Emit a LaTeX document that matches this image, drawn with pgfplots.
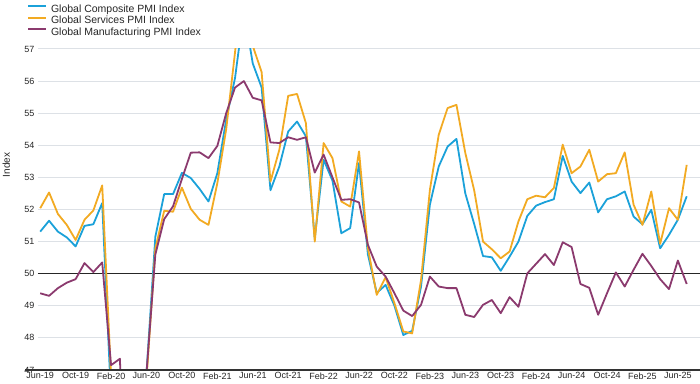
\documentclass[border=0pt]{standalone}
\usepackage{fontspec}
\setmainfont{Liberation Sans}
\usepackage{pgfplots}
\usepackage{pgfplotstable}
\pgfplotsset{compat=1.18}
\definecolor{comp}{HTML}{1BA1D9}
\definecolor{serv}{HTML}{F2AA22}
\definecolor{manu}{HTML}{8B3A6E}
\definecolor{gridc}{HTML}{DDE1E6}
\pgfplotstableread{
m comp serv manu
0 51.31 52.04 49.39
1 51.65 52.53 49.31
2 51.31 51.86 49.55
3 51.13 51.52 49.72
4 50.85 51.05 49.83
5 51.49 51.68 50.33
6 51.54 51.97 50.05
7 52.20 52.75 50.35
8 46.10 46.80 47.15
9 39.40 37.00 47.35
10 26.20 23.70 39.60
11 36.30 35.10 42.40
12 46.90 46.70 46.90
13 51.15 50.78 50.60
14 52.48 51.96 51.70
15 52.48 51.93 52.10
16 53.14 52.68 52.95
17 52.98 52.02 53.77
18 52.64 51.68 53.78
19 52.25 51.52 53.60
20 53.13 52.82 53.98
21 54.80 54.50 55.00
22 56.10 56.90 55.80
23 58.20 59.50 56.00
24 56.55 57.10 55.48
25 55.80 56.28 55.40
26 52.60 52.87 54.09
27 53.34 53.86 54.07
28 54.43 55.54 54.25
29 54.74 55.60 54.17
30 54.28 54.69 54.25
31 51.10 51.00 53.15
32 53.55 54.07 53.71
33 52.90 53.60 53.00
34 51.26 52.25 52.30
35 51.42 52.09 52.32
36 53.45 53.81 52.22
37 50.60 50.80 50.90
38 49.40 49.34 50.22
39 49.65 49.89 49.91
40 49.00 49.08 49.39
41 48.09 48.20 48.85
42 48.22 48.14 48.68
43 49.60 49.80 49.03
44 52.15 52.61 49.91
45 53.34 54.33 49.60
46 53.96 55.16 49.55
47 54.20 55.26 49.55
48 52.50 53.76 48.72
49 51.55 52.60 48.65
50 50.55 51.00 49.03
51 50.51 50.76 49.18
52 50.09 50.48 48.77
53 50.53 50.69 49.27
54 51.00 51.63 48.97
55 51.80 52.32 50.01
56 52.12 52.43 50.31
57 52.23 52.38 50.61
58 52.32 52.67 50.27
59 53.67 54.02 50.98
60 52.87 53.13 50.83
61 52.51 53.34 49.68
62 52.84 53.86 49.56
63 51.91 52.87 48.72
64 52.32 53.10 49.39
65 52.41 53.13 50.04
66 52.56 53.78 49.60
67 51.78 52.15 50.12
68 51.54 51.52 50.62
69 51.99 52.56 50.24
70 50.79 50.93 49.83
71 51.21 52.04 49.52
72 51.68 51.68 50.41
73 52.41 53.39 49.68
}\pmidata
\begin{document}
\begin{tikzpicture}
\useasboundingbox (0,0) rectangle (700bp,384bp);
\begin{axis}[
  at={(38bp,14bp)}, anchor=south west,
  scale only axis, width=662bp, height=321bp,
  xmin=-0.25, xmax=74.5, ymin=47, ymax=57,
  axis line style={draw=none},
  tick style={draw=none},
  ytick={47,48,...,57},
  ymajorgrids,
  grid style={gridc, line width=1bp},
  xtick={0,4,...,72},
  xticklabels={Jun-19,Oct-19,Feb-20,Jun-20,Oct-20,Feb-21,Jun-21,Oct-21,Feb-22,Jun-22,Oct-22,Feb-23,Jun-23,Oct-23,Feb-24,Jun-24,Oct-24,Feb-25,Jun-25},
  ticklabel style={font=\fontsize{9bp}{10bp}\selectfont, text=black!85},
  xticklabel style={yshift=1bp},
  /pgf/number format/assume math mode=true,
  ylabel={Index},
  every axis y label/.style={at={(axis description cs:-0.048,0.639)}, rotate=90, anchor=center, font=\fontsize{10bp}{12bp}\selectfont, text=black!85},
  legend style={at={(axis description cs:-0.0166,1.1402)}, anchor=north west, draw=none, fill=none, inner sep=0pt,
    font=\fontsize{10.5bp}{12bp}\selectfont, text=black!85, row sep=1.5bp, column sep=4bp,
    nodes={inner sep=0pt, text height=8bp, text depth=2bp}},
  legend image code/.code={\draw[#1] (0bp,3bp) -- (18bp,3bp);},
  legend cell align=left,
  line join=round,
]
\draw[black!85, line width=1.3bp] (axis cs:-0.25,50) -- (axis cs:74.5,50);
\addplot[comp, line width=1.8bp] table[x=m, y=comp]{\pmidata};
\addlegendentry{Global Composite PMI Index}
\addplot[serv, line width=1.8bp] table[x=m, y=serv]{\pmidata};
\addlegendentry{Global Services PMI Index}
\addplot[manu, line width=1.8bp] table[x=m, y=manu]{\pmidata};
\addlegendentry{Global Manufacturing PMI Index}
\end{axis}
\draw[black!80, line width=1.5bp] (25bp,14bp) -- (700bp,14bp);
\end{tikzpicture}
\end{document}
